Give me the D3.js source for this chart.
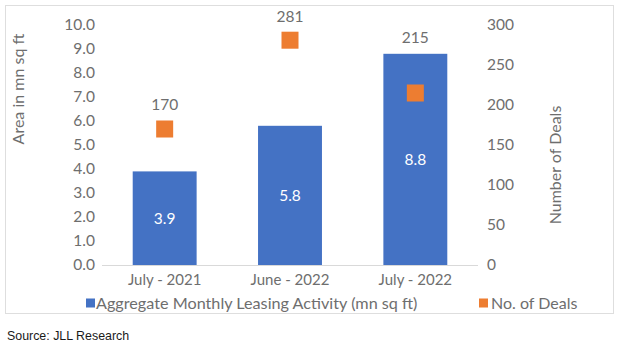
<!DOCTYPE html>
<html>
<head>
<meta charset="utf-8">
<script src="https://cdn.jsdelivr.net/npm/d3@7"></script>
<style>
  body { margin: 0; background: #fff; }
  svg { display: block; font-family: Lato, "Open Sans", sans-serif; }
</style>
</head>
<body>
<svg id="chart" width="620" height="344"></svg>
<script>
const categories = ["July - 2021", "June - 2022", "July - 2022"];
const leasingArea = [3.9, 5.8, 8.8];
const dealCount = [170, 281, 215];
const leftTicks = [0, 1, 2, 3, 4, 5, 6, 7, 8, 9, 10];
const rightTicks = [0, 50, 100, 150, 200, 250, 300];

const blue = "#4472C4";
const orange = "#ED7D31";
const grey = "#6e6e6e";

const svg = d3.select("#chart");

// outer frame of the chart
svg.append("rect")
  .attr("x", 5.5).attr("y", 5.5)
  .attr("width", 608).attr("height", 308)
  .attr("fill", "#fff")
  .attr("stroke", "#dedede");

const x = d3.scaleBand()
  .domain(categories)
  .range([102, 478])
  .paddingInner(0.49)
  .paddingOuter(0.245);

const yLeft = d3.scaleLinear().domain([0, 10]).range([265, 25]);
const yRight = d3.scaleLinear().domain([0, 300]).range([265, 25]);

// baseline
svg.append("line")
  .attr("x1", 102).attr("x2", 478)
  .attr("y1", yLeft(0) + 0.5).attr("y2", yLeft(0) + 0.5)
  .attr("stroke", "#d9d9d9");

const leftAxis = svg.append("g")
  .attr("transform", "translate(102,0)")
  .call(d3.axisLeft(yLeft).tickValues(leftTicks).tickFormat(d3.format(".1f")).tickSize(0).tickPadding(7));

const rightAxis = svg.append("g")
  .attr("transform", "translate(478,0)")
  .call(d3.axisRight(yRight).tickValues(rightTicks).tickSize(0).tickPadding(9));

const bottomAxis = svg.append("g")
  .attr("transform", `translate(0,${yLeft(0)})`)
  .call(d3.axisBottom(x).tickSize(0).tickPadding(9));

[leftAxis, rightAxis, bottomAxis].forEach(g => {
  g.select(".domain").remove();
  g.selectAll("text")
    .attr("fill", grey)
    .style("font-size", "15.5px")
    .style("font-family", "Lato, sans-serif");
});
bottomAxis.selectAll("text").style("font-size", "15px");

// bars
svg.selectAll(".bar")
  .data(leasingArea)
  .enter()
  .append("rect")
  .attr("class", "bar")
  .attr("x", (d, i) => x(categories[i]))
  .attr("y", d => yLeft(d))
  .attr("width", x.bandwidth())
  .attr("height", d => yLeft(0) - yLeft(d))
  .attr("fill", blue);

svg.selectAll(".bar-label")
  .data(leasingArea)
  .enter()
  .append("text")
  .attr("class", "bar-label")
  .attr("x", (d, i) => x(categories[i]) + x.bandwidth() / 2)
  .attr("y", d => (yLeft(d) + yLeft(0)) / 2)
  .attr("dy", "0.35em")
  .attr("text-anchor", "middle")
  .attr("fill", "#fff")
  .style("font-size", "15.5px")
  .text(d => d.toFixed(1));

// deal markers
const ms = 17;
svg.selectAll(".marker")
  .data(dealCount)
  .enter()
  .append("rect")
  .attr("class", "marker")
  .attr("x", (d, i) => x(categories[i]) + x.bandwidth() / 2 - ms / 2)
  .attr("y", d => yRight(d) - ms / 2)
  .attr("width", ms)
  .attr("height", ms)
  .attr("fill", orange);

// labels sit above the marker, or above the bar if the marker is inside it
svg.selectAll(".marker-label")
  .data(dealCount)
  .enter()
  .append("text")
  .attr("class", "marker-label")
  .attr("x", (d, i) => x(categories[i]) + x.bandwidth() / 2)
  .attr("y", (d, i) => Math.min(yRight(d) - 24, yLeft(leasingArea[i]) - 16))
  .attr("dy", "0.35em")
  .attr("text-anchor", "middle")
  .attr("fill", grey)
  .style("font-size", "15.5px")
  .text(d => d);

// axis titles
svg.append("text")
  .attr("transform", "translate(18,89) rotate(-90)")
  .attr("dy", "0.35em")
  .attr("text-anchor", "middle")
  .attr("fill", grey)
  .style("font-size", "16px")
  .text("Area in mn sq ft");

svg.append("text")
  .attr("transform", "translate(555,165) rotate(-90)")
  .attr("dy", "0.35em")
  .attr("text-anchor", "middle")
  .attr("fill", grey)
  .style("font-size", "16px")
  .text("Number of Deals");

// legend
const legend = svg.append("g").attr("transform", "translate(0,303)");
legend.append("rect").attr("x", 86).attr("y", -4.5).attr("width", 9).attr("height", 9).attr("fill", blue);
legend.append("text").attr("x", 96).attr("dy", "0.35em").attr("fill", grey)
  .style("font-size", "16.2px").text("Aggregate Monthly Leasing Activity (mn sq ft)");
legend.append("rect").attr("x", 479).attr("y", -4.5).attr("width", 9).attr("height", 9).attr("fill", orange);
legend.append("text").attr("x", 491).attr("dy", "0.35em").attr("fill", grey)
  .style("font-size", "16px").text("No. of Deals");

// source note
svg.append("text")
  .attr("x", 7).attr("y", 340)
  .attr("fill", "#1a1a1a")
  .style("font-family", "'Liberation Sans', Arial, sans-serif")
  .style("font-size", "12.4px")
  .text("Source: JLL Research");
</script>
</body>
</html>
